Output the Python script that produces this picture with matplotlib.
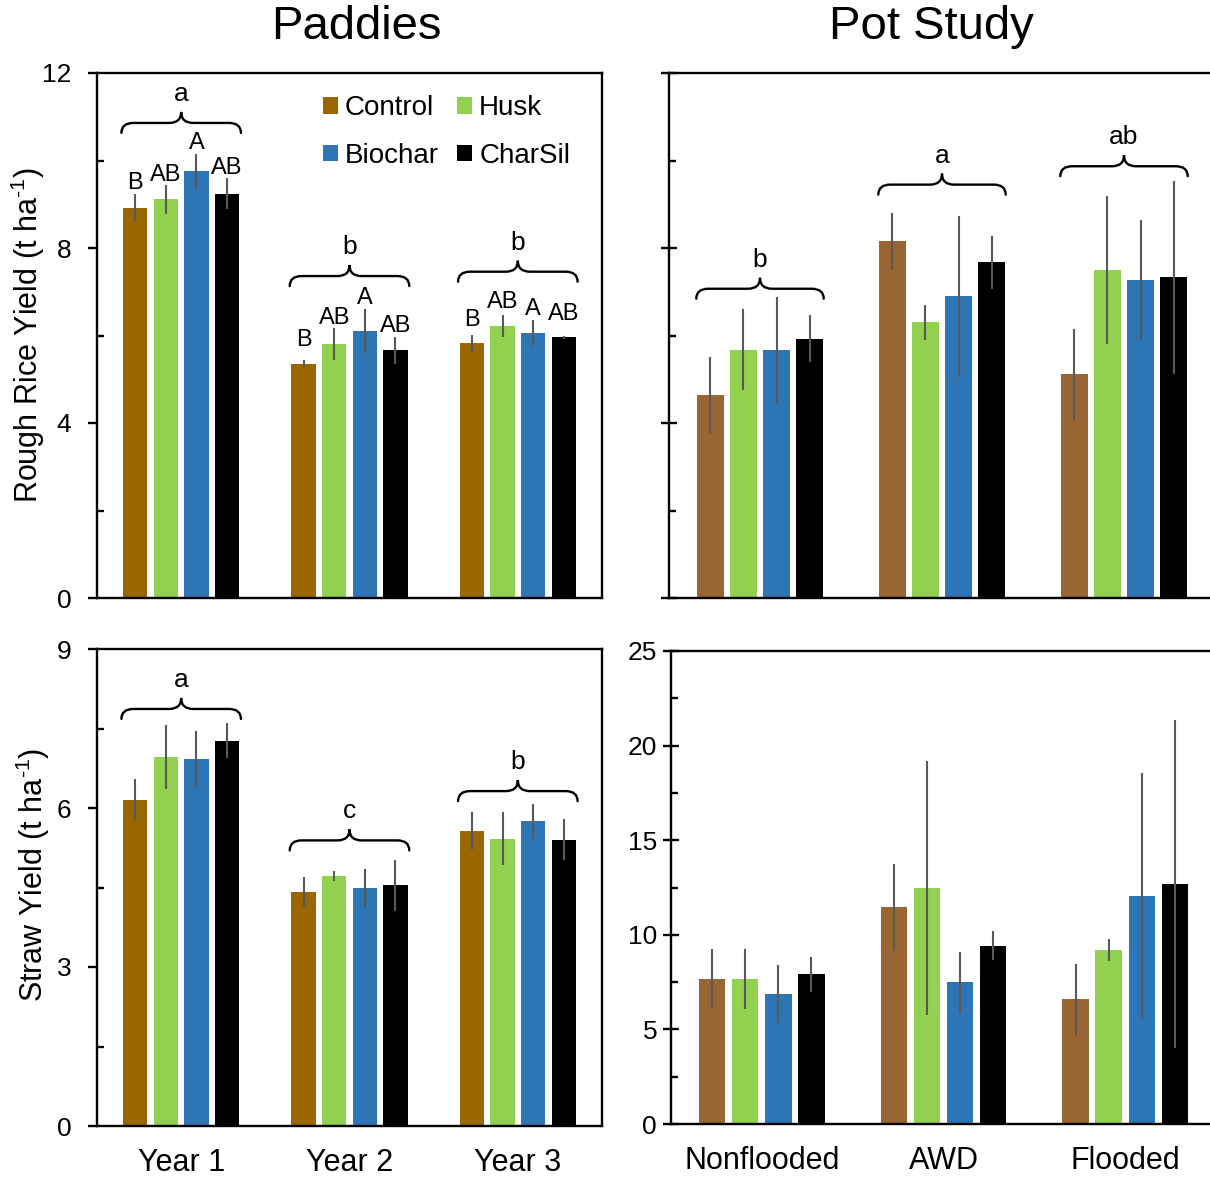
import numpy as np
import matplotlib

matplotlib.use("Agg")
import matplotlib.pyplot as plt
from matplotlib.path import Path
from matplotlib.patches import PathPatch
from matplotlib.ticker import MultipleLocator

plt.rcParams["font.family"] = ["Liberation Sans", "DejaVu Sans"]
plt.rcParams["mathtext.fontset"] = "custom"
plt.rcParams["mathtext.rm"] = "Liberation Sans"
plt.rcParams["mathtext.it"] = "Liberation Sans:italic"

# --- data (rows = year / water regime, cols = treatment) ---
treatments = ["Control", "Husk", "Biochar", "CharSil"]
years = ["Year 1", "Year 2", "Year 3"]
water = ["Nonflooded", "AWD", "Flooded"]

paddy_grain = [[8.92, 9.11, 9.75, 9.24],
               [5.36, 5.81, 6.11, 5.66],
               [5.82, 6.22, 6.06, 5.96]]
paddy_grain_err = [[0.32, 0.33, 0.41, 0.36],
                   [0.08, 0.36, 0.50, 0.31],
                   [0.20, 0.26, 0.30, 0.03]]
paddy_grain_letters = [["B", "AB", "A", "AB"],
                       ["B", "AB", "A", "AB"],
                       ["B", "AB", "A", "AB"]]
paddy_grain_groups = ["a", "b", "b"]

pot_grain = [[4.63, 5.68, 5.66, 5.93],
             [8.15, 6.30, 6.90, 7.67],
             [5.11, 7.49, 7.28, 7.33]]
pot_grain_err = [[0.88, 0.93, 1.23, 0.53],
                 [0.65, 0.40, 1.84, 0.60],
                 [1.05, 1.69, 1.35, 2.20]]
pot_grain_groups = ["b", "a", "ab"]

paddy_straw = [[6.16, 6.96, 6.92, 7.27],
               [4.41, 4.72, 4.49, 4.54],
               [5.57, 5.42, 5.75, 5.40]]
paddy_straw_err = [[0.38, 0.60, 0.53, 0.33],
                   [0.28, 0.09, 0.35, 0.48],
                   [0.36, 0.50, 0.33, 0.39]]
paddy_straw_groups = ["a", "c", "b"]

pot_straw = [[7.66, 7.66, 6.87, 7.92],
             [11.45, 12.47, 7.48, 9.43],
             [6.59, 9.19, 12.06, 12.69]]
pot_straw_err = [[1.60, 1.60, 1.51, 0.92],
                 [2.29, 6.73, 1.62, 0.76],
                 [1.88, 0.58, 6.47, 8.66]]

# brace foot heights (y units of each panel)
paddy_grain_brace = [10.63, 7.13, 7.23]
pot_grain_brace = [6.84, 9.22, 9.64]
paddy_straw_brace = [7.68, 5.20, 6.13]

field_colors = ["#996600", "#92D050", "#2E75B6", "#000000"]
pot_colors = ["#996633", "#92D050", "#2E75B6", "#000000"]
ERR = "#595959"
W, H, DPI = 12.1, 11.8, 100


def units_per_px(ax):
    pos = ax.get_position()
    x0, x1 = ax.get_xlim()
    y0, y1 = ax.get_ylim()
    return (x1 - x0) / (pos.width * W * DPI), (y1 - y0) / (pos.height * H * DPI)


def draw_bars(ax, vals, errs, colors, step=0.182, width=0.145):
    vals = np.asarray(vals)
    errs = np.asarray(errs)
    x = np.arange(vals.shape[0])
    handles = []
    for i, (name, c) in enumerate(zip(treatments, colors)):
        b = ax.bar(x + (i - 1.5) * step, vals[:, i], width, yerr=errs[:, i],
                   color=c, label=name, zorder=2,
                   error_kw=dict(ecolor=ERR, elinewidth=1.5, capsize=0, zorder=3))
        handles.append(b)
    return handles


def draw_brace(ax, xc, y0, label, half=0.355):
    ux, uy = units_per_px(ax)
    r = 12 * ux
    ym = y0 + 10 * uy
    yt = y0 + 21 * uy
    xa, xb = xc - half, xc + half
    verts = [(xa, y0), (xa, ym), (xa + r, ym), (xc - r, ym), (xc, ym), (xc, yt),
             (xc, ym), (xc + r, ym), (xb - r, ym), (xb, ym), (xb, y0)]
    codes = [Path.MOVETO, Path.CURVE3, Path.CURVE3, Path.LINETO, Path.CURVE3, Path.CURVE3,
             Path.CURVE3, Path.CURVE3, Path.LINETO, Path.CURVE3, Path.CURVE3]
    ax.add_patch(PathPatch(Path(verts, codes), fill=False, lw=1.7, color="black",
                           capstyle="round", zorder=4))
    ax.text(xc, yt + 11 * uy, label, ha="center", va="baseline", fontsize=19)


def style_axes(ax, ymax, major, minor, cross):
    ax.set_xlim(-0.5, 2.5)
    ax.set_ylim(0, ymax)
    ax.yaxis.set_major_locator(MultipleLocator(major))
    ax.yaxis.set_minor_locator(MultipleLocator(minor))
    for sp in ax.spines.values():
        sp.set_linewidth(1.7)
    if cross:
        ax.tick_params(axis="y", which="major", direction="inout", length=12,
                       width=1.7, labelsize=19, pad=4)
    else:
        ax.tick_params(axis="y", which="major", direction="out", length=6.5,
                       width=1.7, labelsize=19, pad=12)
    ax.tick_params(axis="y", which="minor", direction="in", length=5, width=1.7)
    ax.tick_params(axis="x", length=0, labelsize=22, pad=16)
    ax.set_xticks(np.arange(3))


fig = plt.figure(figsize=(W, H), dpi=DPI)
ax_tl = fig.add_axes([97 / 1210, 1 - 598 / 1180, 505 / 1210, 525 / 1180])
ax_tr = fig.add_axes([669 / 1210, 1 - 598 / 1180, 546 / 1210, 525 / 1180])
ax_bl = fig.add_axes([97 / 1210, 1 - 1126 / 1180, 505 / 1210, 477 / 1180])
ax_br = fig.add_axes([671 / 1210, 1 - 1124 / 1180, 545 / 1210, 473 / 1180])

# Paddies: rough rice
style_axes(ax_tl, 12, 4, 2, cross=False)
handles = draw_bars(ax_tl, paddy_grain, paddy_grain_err, field_colors)
ax_tl.set_xticklabels([])
step = 0.182
for g in range(3):
    for i in range(4):
        v = paddy_grain[g][i]
        e = paddy_grain_err[g][i]
        ax_tl.text(g + (i - 1.5) * step, max(v + e + 0.1, v + 0.4),
                   paddy_grain_letters[g][i], ha="center", va="baseline", fontsize=17)
    draw_brace(ax_tl, g, paddy_grain_brace[g], paddy_grain_groups[g])
# two columns filled column-wise: Control/Biochar, then Husk/CharSil
leg_order = [0, 2, 1, 3]
ax_tl.legend(handles=[handles[k] for k in leg_order], ncol=2, loc="upper left",
             bbox_to_anchor=(0.447, 0.958), frameon=False, fontsize=20,
             handlelength=0.55, handleheight=0.55, handletextpad=0.25,
             columnspacing=0.65, labelspacing=0.78, borderpad=0, borderaxespad=0)

# Pot study: rough rice
style_axes(ax_tr, 12, 4, 2, cross=True)
draw_bars(ax_tr, pot_grain, pot_grain_err, pot_colors)
ax_tr.set_xticklabels([])
ax_tr.tick_params(axis="y", labelleft=False)
for g in range(3):
    draw_brace(ax_tr, g, pot_grain_brace[g], pot_grain_groups[g], half=0.35)

# Paddies: straw
style_axes(ax_bl, 9, 3, 1.5, cross=False)
draw_bars(ax_bl, paddy_straw, paddy_straw_err, field_colors)
ax_bl.set_xticklabels(years)
for g in range(3):
    draw_brace(ax_bl, g, paddy_straw_brace[g], paddy_straw_groups[g])

# Pot study: straw
style_axes(ax_br, 25, 5, 2.5, cross=True)
draw_bars(ax_br, pot_straw, pot_straw_err, pot_colors)
ax_br.set_xticklabels(water)

fig.text(356 / 1210, 1 - 39 / 1180, "Paddies", ha="center", va="baseline", fontsize=34)
fig.text(931 / 1210, 1 - 39 / 1180, "Pot Study", ha="center", va="baseline", fontsize=34)
fig.text(28 / 1210, 1 - 335 / 1180, "Rough Rice Yield (t ha$\\mathregular{^{\u20101}}$)",
         rotation=90, ha="center", va="center", fontsize=22)
fig.text(33 / 1210, 1 - 875 / 1180, "Straw Yield (t ha$\\mathregular{^{\u20101}}$)",
         rotation=90, ha="center", va="center", fontsize=22)

fig.savefig("out.png", dpi=DPI)
plt.close(fig)
